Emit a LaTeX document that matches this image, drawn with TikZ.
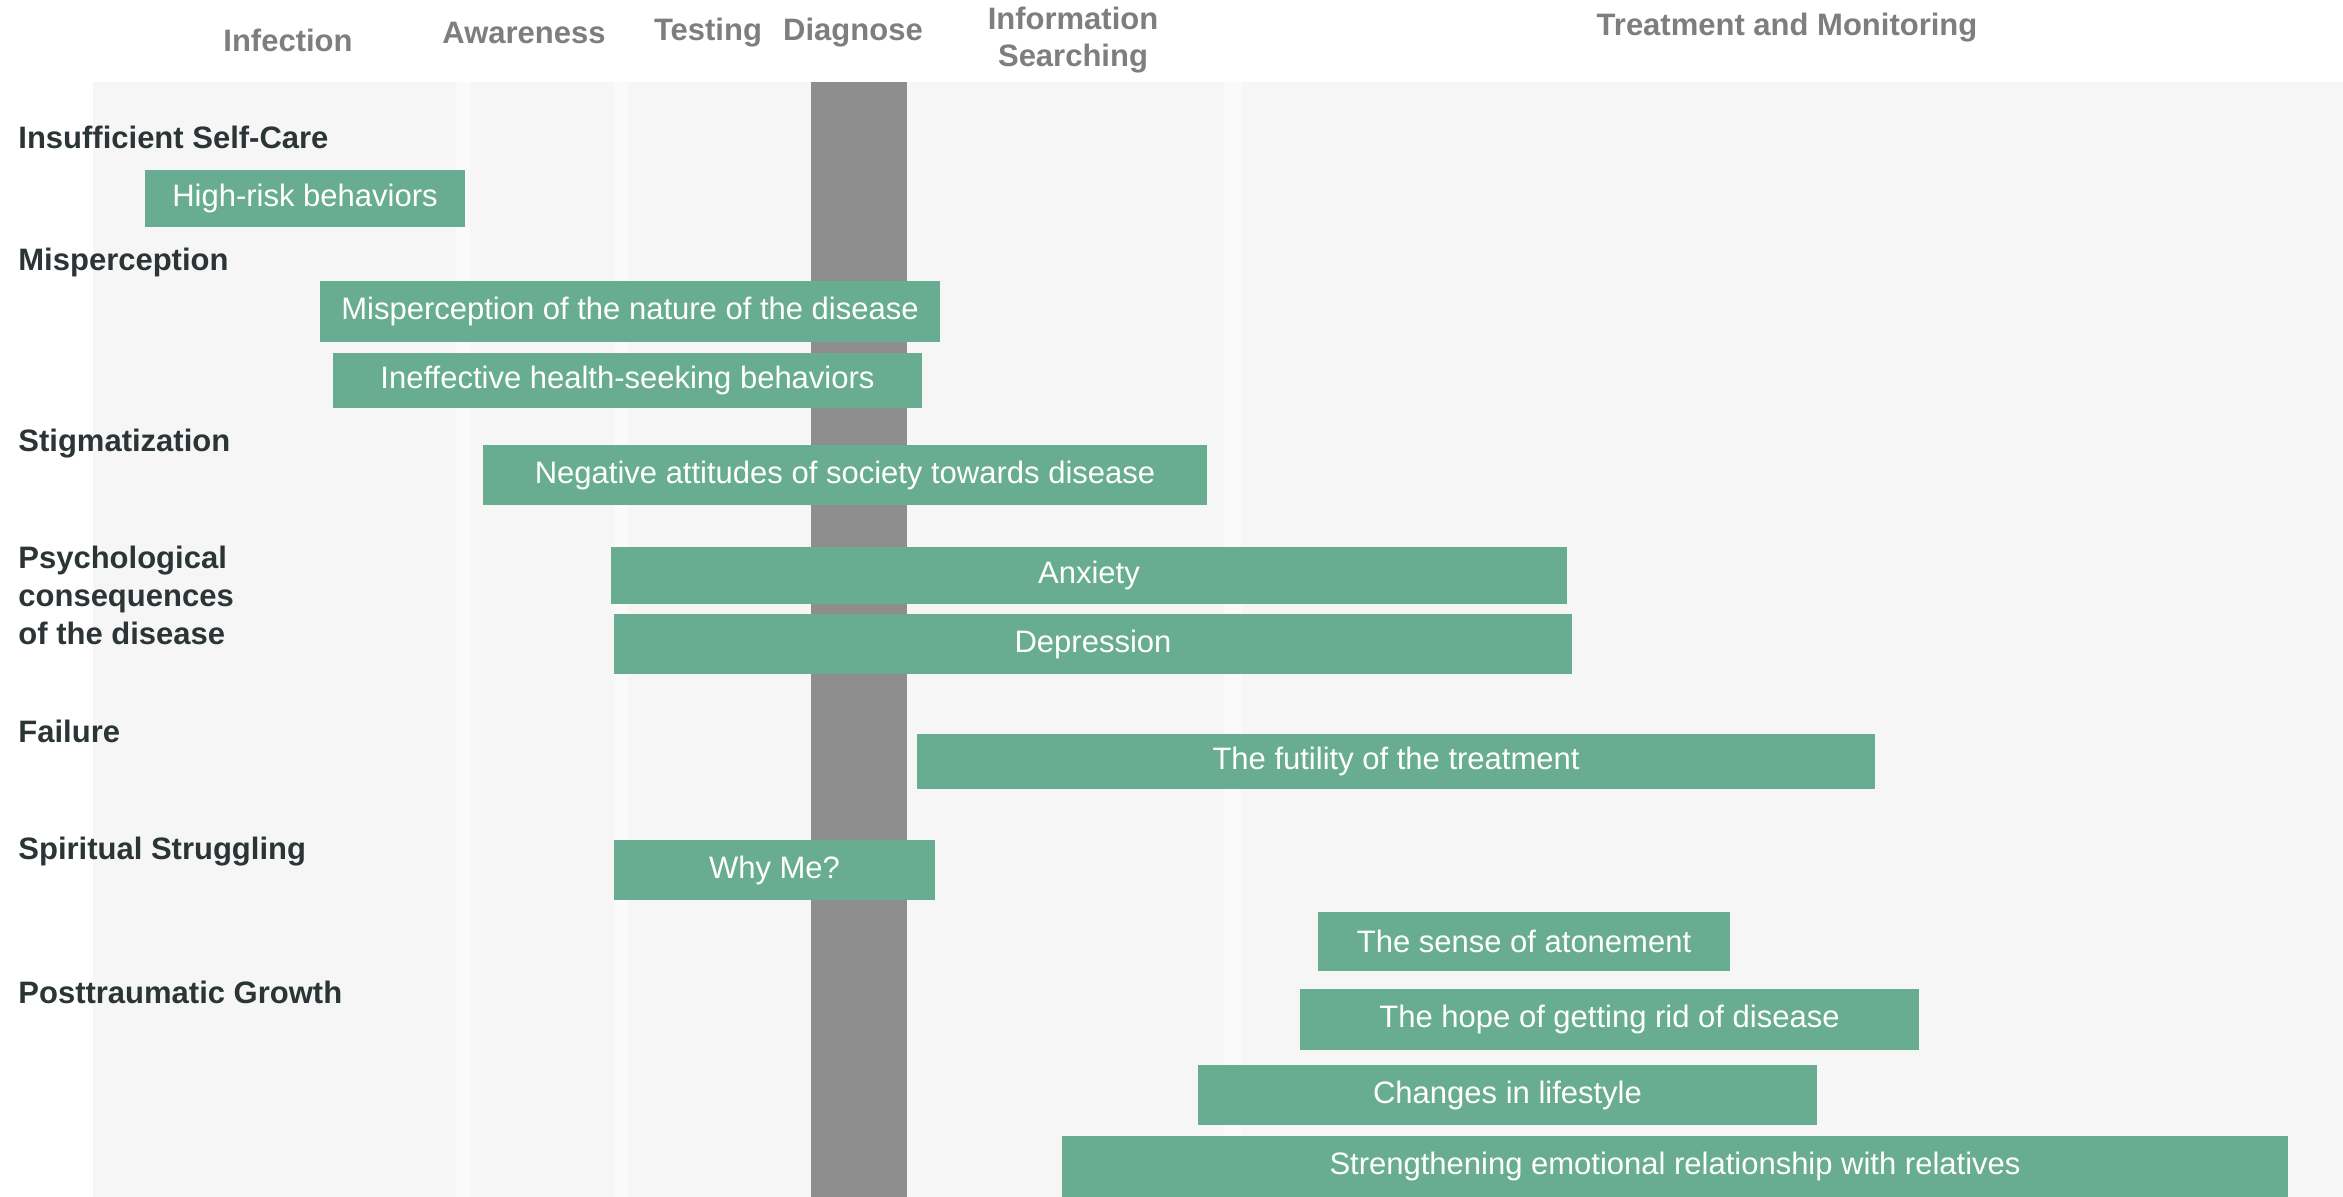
\documentclass[tikz,border=0pt]{standalone}
\usepackage{fontspec}
\setmainfont{Liberation Sans}
\usetikzlibrary{fit}
\definecolor{panel}{HTML}{F6F6F6}
\definecolor{stripe}{HTML}{FAFAFA}
\definecolor{barfill}{HTML}{68AD92}
\definecolor{diagfill}{HTML}{8E8E8E}
\definecolor{headtext}{HTML}{7E7E7E}
\definecolor{rowtext}{HTML}{2B3535}
\tikzset{
  barbox/.style={fill=barfill, inner sep=0pt},
  bartext/.style={text=white, inner sep=0pt,
    font=\fontsize{15.5}{18}\selectfont},
  phase/.style={text=headtext, font=\bfseries\fontsize{15.5}{18.5}\selectfont,
    align=center, inner sep=0pt},
  category/.style={text=rowtext, font=\bfseries\fontsize{15.5}{19}\selectfont,
    align=left, anchor=west, inner sep=0pt},
}
% an experience bar: name, corners, caption centred inside
\newcommand{\experience}[4]{%
  \node[barbox, fit={#2 #3}, label={[bartext]center:#4}] (#1) {};}
\begin{document}
\begin{tikzpicture}[x=0.5pt, y=-0.5pt]
\useasboundingbox (0,0) rectangle (2343,1197);
\clip (0,0) rectangle (2343,1197);
% page and timeline panel
\fill[white] (0,0) rectangle (2343,1197);
\fill[panel] (93,82) rectangle (2343,1197);
% phase separators
\fill[stripe] (456,82) rectangle (470,1197);
\fill[stripe] (614,82) rectangle (628,1197);
\fill[stripe] (1224,82) rectangle (1242,1197);

% phase headers
\node[phase] (infection) at (288,40) {Infection};
\node[phase] (awareness) at (524,33) {Awareness};
\node[phase] (testing) at (708,33) {Testing};
\node[phase] (diagnose) at (853,33) {Diagnose};
\node[phase] (info) at (1073,40) {Information\\Searching};
\node[phase] (treat) at (1787,28) {Treatment and Monitoring};

% diagnosis marker
\node[fill=diagfill, inner sep=0pt, fit={(811,82) (907,1197)}] (diag) {};

% categories
\node[category] (selfcare) at (18,137) {Insufficient Self-Care};
\node[category] (misperc) at (18,262) {Misperception};
\node[category] (stigma) at (18,444) {Stigmatization};
\node[category] (psych) at (18,595) {Psychological\\consequences\\of the disease};
\node[category] (failure) at (18,731) {Failure};
\node[category] (spirit) at (18,852) {Spiritual Struggling};
\node[category] (growth) at (18,992) {Posttraumatic Growth};

% experiences along the timeline
\experience{highrisk}{(145,170)}{(465,227)}{High-risk behaviors}
\experience{nature}{(320,281)}{(940,342)}{Misperception of the nature of the disease}
\experience{seeking}{(333,353)}{(922,408)}{Ineffective health-seeking behaviors}
\experience{attitudes}{(483,445)}{(1207,505)}{Negative attitudes of society towards disease}
\experience{anxiety}{(611,547)}{(1567,604)}{Anxiety}
\experience{depression}{(614,614)}{(1572,674)}{Depression}
\experience{futility}{(917,734)}{(1875,789)}{The futility of the treatment}
\experience{whyme}{(614,840)}{(935,900)}{Why Me?}
\experience{atonement}{(1318,912)}{(1730,971)}{The sense of atonement}
\experience{hope}{(1300,989)}{(1919,1050)}{The hope of getting rid of disease}
\experience{lifestyle}{(1198,1065)}{(1817,1125)}{Changes in lifestyle}
\experience{relatives}{(1062,1136)}{(2288,1197)}{Strengthening emotional relationship with relatives}
\end{tikzpicture}
\end{document}
